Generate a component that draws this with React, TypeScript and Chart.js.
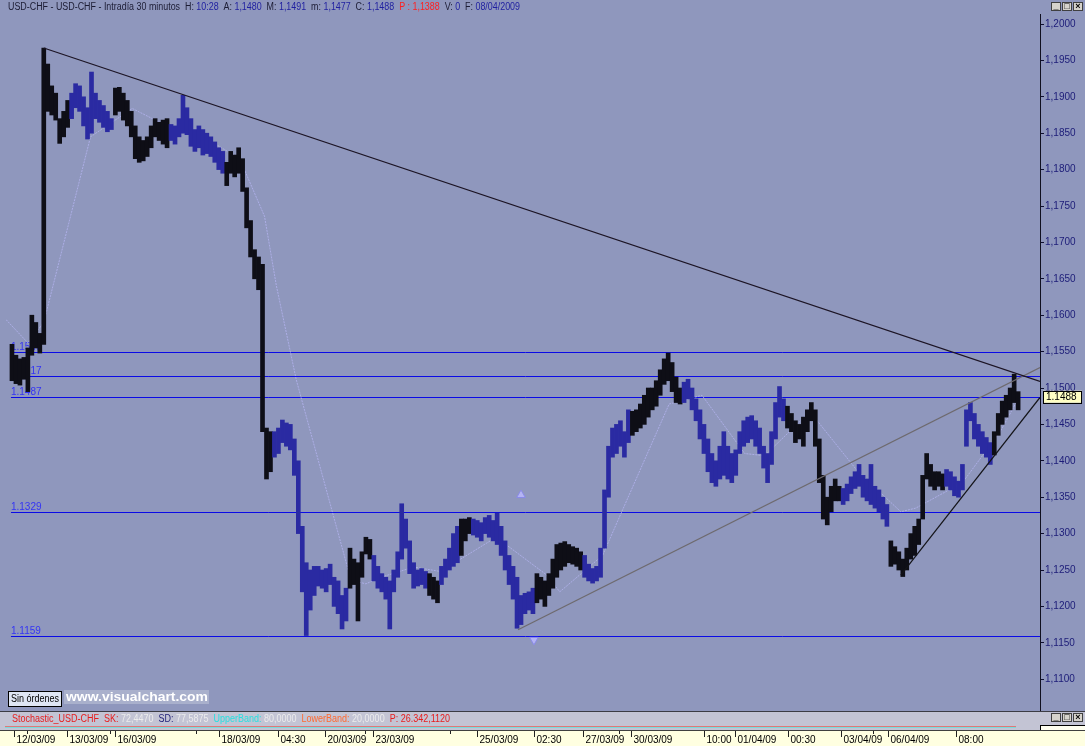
import React, { useEffect, useRef } from "react";
import { Chart, registerables } from "chart.js";
Chart.register(...registerables);

const FONT = '"Liberation Sans", Arial, sans-serif';

// 30-minute bars, sampled (bar number 1 .. 254)
const FIRST_BAR = 1;
const barLows = [
  1.1510, 1.1506, 1.1504, 1.1512, 1.1495, 1.1545, 1.1555, 1.1548, 1.1560, 1.1880,
  1.1875, 1.1868, 1.1836, 1.1845, 1.1858, 1.1870, 1.1885, 1.1880, 1.1860, 1.1842,
  1.1850, 1.1870, 1.1865, 1.1858, 1.1852, 1.1855, 1.1875, 1.1880, 1.1868, 1.1860,
  1.1845, 1.1815, 1.1810, 1.1812, 1.1818, 1.1830, 1.1845, 1.1840, 1.1835, 1.1830,
  1.1840, 1.1835, 1.1845, 1.1850, 1.1848, 1.1832, 1.1825, 1.1830, 1.1820, 1.1822,
  1.1818, 1.1810, 1.1800, 1.1795, 1.1778, 1.1795, 1.1790, 1.1795, 1.1770, 1.1720,
  1.1680, 1.1650, 1.1635, 1.1440, 1.1375, 1.1385, 1.1405, 1.1410, 1.1425, 1.1420,
  1.1415, 1.1380, 1.1300, 1.1220, 1.1160, 1.1195, 1.1215, 1.1228, 1.1225, 1.1220,
  1.1230, 1.1200, 1.1190, 1.1169, 1.1180, 1.1225, 1.1230, 1.1180, 1.1240, 1.1272,
  1.1265, 1.1235, 1.1225, 1.1220, 1.1210, 1.1169, 1.1220, 1.1240, 1.1265, 1.1280,
  1.1245, 1.1225, 1.1228, 1.1230, 1.1225, 1.1215, 1.1210, 1.1205, 1.1230, 1.1240,
  1.1250, 1.1255, 1.1260, 1.1270, 1.1290, 1.1300, 1.1298, 1.1295, 1.1290, 1.1300,
  1.1295, 1.1290, 1.1285, 1.1270, 1.1250, 1.1230, 1.1210, 1.1170, 1.1175, 1.1190,
  1.1195, 1.1190, 1.1205, 1.1210, 1.1200, 1.1215, 1.1225, 1.1240, 1.1250, 1.1255,
  1.1260, 1.1258, 1.1255, 1.1250, 1.1240, 1.1235, 1.1232, 1.1235, 1.1240, 1.1280,
  1.1350, 1.1405, 1.1410, 1.1420, 1.1405, 1.1425, 1.1435, 1.1440, 1.1445, 1.1450,
  1.1460, 1.1470, 1.1475, 1.1490, 1.1505, 1.1510, 1.1495, 1.1480, 1.1478, 1.1480,
  1.1485, 1.1470, 1.1455, 1.1430, 1.1410, 1.1385, 1.1370, 1.1365, 1.1375, 1.1380,
  1.1375, 1.1370, 1.1380, 1.1410, 1.1420, 1.1425, 1.1430, 1.1420, 1.1410, 1.1390,
  1.1370, 1.1395, 1.1430, 1.1460, 1.1455, 1.1445, 1.1440, 1.1425, 1.1430, 1.1420,
  1.1440, 1.1455, 1.1420, 1.1370, 1.1320, 1.1312, 1.1330, 1.1345, 1.1345, 1.1340,
  1.1345, 1.1355, 1.1362, 1.1365, 1.1350, 1.1345, 1.1340, 1.1335, 1.1330, 1.1320,
  1.1310, 1.1255, 1.1258, 1.1250, 1.1241, 1.1250, 1.1265, 1.1270, 1.1285, 1.1320,
  1.1375, 1.1365, 1.1360, 1.1365, 1.1360, 1.1365, 1.1360, 1.1352, 1.1350, 1.1360,
  1.1420, 1.1455, 1.1430, 1.1420, 1.1410, 1.1405, 1.1395, 1.1408, 1.1435, 1.1450,
  1.1460, 1.1470, 1.1480, 1.1470,
];
const barHighs = [
  1.1560, 1.1545, 1.1540, 1.1542, 1.1555, 1.1600, 1.1590, 1.1575, 1.1967, 1.1945,
  1.1915, 1.1905, 1.1870, 1.1880, 1.1895, 1.1905, 1.1918, 1.1915, 1.1900, 1.1885,
  1.1934, 1.1905, 1.1895, 1.1888, 1.1880, 1.1870, 1.1912, 1.1913, 1.1905, 1.1895,
  1.1880, 1.1860, 1.1845, 1.1840, 1.1845, 1.1860, 1.1870, 1.1865, 1.1868, 1.1870,
  1.1862, 1.1860, 1.1870, 1.1902, 1.1885, 1.1870, 1.1855, 1.1860, 1.1855, 1.1850,
  1.1845, 1.1838, 1.1830, 1.1825, 1.1810, 1.1825, 1.1820, 1.1830, 1.1815, 1.1775,
  1.1730, 1.1690, 1.1680, 1.1670, 1.1445, 1.1440, 1.1440, 1.1445, 1.1456, 1.1452,
  1.1450, 1.1430, 1.1400, 1.1310, 1.1260, 1.1250, 1.1255, 1.1255, 1.1250, 1.1252,
  1.1258, 1.1240, 1.1235, 1.1215, 1.1225, 1.1280, 1.1265, 1.1260, 1.1275, 1.1295,
  1.1292, 1.1270, 1.1255, 1.1245, 1.1240, 1.1235, 1.1250, 1.1275, 1.1341, 1.1320,
  1.1290, 1.1260, 1.1250, 1.1252, 1.1248, 1.1245, 1.1240, 1.1235, 1.1255, 1.1265,
  1.1280, 1.1300, 1.1310, 1.1320, 1.1320, 1.1322, 1.1320, 1.1318, 1.1315, 1.1322,
  1.1325, 1.1318, 1.1328, 1.1310, 1.1290, 1.1270, 1.1255, 1.1240, 1.1215, 1.1218,
  1.1220, 1.1225, 1.1245, 1.1240, 1.1235, 1.1245, 1.1265, 1.1285, 1.1287, 1.1289,
  1.1285, 1.1282, 1.1280, 1.1275, 1.1270, 1.1258, 1.1252, 1.1255, 1.1280, 1.1360,
  1.1420, 1.1445, 1.1450, 1.1455, 1.1440, 1.1470, 1.1468, 1.1470, 1.1478, 1.1490,
  1.1500, 1.1500, 1.1510, 1.1525, 1.1540, 1.1548, 1.1535, 1.1515, 1.1500, 1.1508,
  1.1512, 1.1500, 1.1485, 1.1470, 1.1450, 1.1430, 1.1410, 1.1400, 1.1420, 1.1440,
  1.1420, 1.1410, 1.1415, 1.1440, 1.1455, 1.1460, 1.1462, 1.1455, 1.1445, 1.1420,
  1.1410, 1.1440, 1.1480, 1.1502, 1.1485, 1.1475, 1.1465, 1.1455, 1.1450, 1.1460,
  1.1470, 1.1480, 1.1470, 1.1430, 1.1380, 1.1350, 1.1365, 1.1375, 1.1365, 1.1362,
  1.1368, 1.1378, 1.1385, 1.1395, 1.1380, 1.1375, 1.1395, 1.1365, 1.1360, 1.1350,
  1.1340, 1.1290, 1.1282, 1.1275, 1.1265, 1.1280, 1.1300, 1.1310, 1.1320, 1.1380,
  1.1410, 1.1395, 1.1385, 1.1385, 1.1382, 1.1388, 1.1385, 1.1378, 1.1372, 1.1395,
  1.1470, 1.1480, 1.1465, 1.1450, 1.1440, 1.1432, 1.1425, 1.1440, 1.1465, 1.1482,
  1.1490, 1.1500, 1.1519, 1.1495,
];
// bar tone runs: [first bar, last bar, tone]
const toneRuns: [number, number, string][] = [
  [1, 15, "k"], [16, 26, "b"], [27, 40, "k"], [41, 54, "b"], [55, 66, "k"],
  [67, 85, "b"], [86, 91, "k"], [92, 105, "b"], [106, 108, "k"], [109, 113, "b"],
  [114, 116, "k"], [117, 132, "b"], [133, 144, "k"], [145, 156, "b"], [157, 169, "k"],
  [170, 195, "b"], [196, 209, "k"], [210, 221, "b"], [222, 235, "k"], [236, 247, "b"],
  [248, 254, "k"],
];

// smoothed guide line
const guideX = [-0.5, 5, 9, 20.75, 31.25, 37.75, 52.75, 58.25, 64.5, 67.5, 72.5, 86.25, 90, 93.75, 102, 108.75, 122.75, 135.25, 138.75, 149.5, 166.25, 174.5, 185.25, 190.25, 199.5, 202, 213.75, 224.5, 228.25, 240, 249.5, 253.5];
const guideY = [1.1594, 1.1562, 1.1590, 1.1845, 1.1884, 1.1866, 1.1833, 1.1815, 1.1736, 1.1640, 1.1511, 1.1236, 1.1231, 1.1240, 1.1254, 1.1248, 1.1295, 1.1244, 1.1220, 1.1270, 1.1478, 1.1490, 1.1410, 1.1407, 1.1456, 1.1465, 1.1385, 1.1330, 1.1335, 1.1370, 1.1440, 1.1480];

// trend lines (bar number, price)
const trendDownX = [9, 259.5];
const trendDownY = [1.1967, 1.1509];
const trendUpAX = [128.25, 259.5];
const trendUpAY = [1.1168, 1.1528];
const trendUpBX = [224.5, 259.5];
const trendUpBY = [1.1243, 1.1487];

// horizontal levels
const levelValues = [1.1549, 1.1517, 1.1487, 1.1329, 1.1159];
const levelLabels = ["1.1549", "1.1517", "1.1487", "1.1329", "1.1159"];

// arrow markers
const markerX = [129, 132.25];
const markerY = [1.1353, 1.1154];
const markerRot = [0, 180];

const yTickValues = [1.11, 1.115, 1.12, 1.125, 1.13, 1.135, 1.14, 1.145, 1.15, 1.155, 1.16, 1.165, 1.17, 1.175, 1.18, 1.185, 1.19, 1.195, 1.2];
const yMin = 1.105632;
const yMax = 1.201374;

const xTickPositions = [1.4, 4.7, 14.75, 25.75, 26.9, 47.25, 52.95, 68, 79.7, 89.75, 91.75, 111.15, 118, 132.25, 144.7, 153.6, 156.65, 174.9, 182.75, 196.2, 209.4, 217.5, 221.4, 238.5];
const xTickLabels = ["12/03/09", "", "13/03/09", "", "16/03/09", "", "18/03/09", "04:30", "20/03/09", "", "23/03/09", "", "25/03/09", "02:30", "27/03/09", "", "30/03/09", "10:00", "01/04/09", "00:30", "03/04/09", "", "06/04/09", "08:00"];

const lastClose = 1.1488;

const headerRuns: [string, string][] = [
  ["USD-CHF - USD-CHF - Intradía 30 minutos  ", "#1c1c34"],
  ["H: ", "#1c1c34"], ["10:28", "#1f1fa0"],
  ["  A: ", "#1c1c34"], ["1,1480", "#1f1fa0"],
  ["  M: ", "#1c1c34"], ["1,1491", "#1f1fa0"],
  ["  m: ", "#1c1c34"], ["1,1477", "#1f1fa0"],
  ["  C: ", "#1c1c34"], ["1,1488", "#1f1fa0"],
  ["  P : ", "#ff2020"], ["1,1388", "#ff2020"],
  ["  V: ", "#1c1c34"], ["0", "#1f1fa0"],
  ["  F: ", "#1c1c34"], ["08/04/2009", "#1f1fa0"],
];
const stochRuns: [string, string][] = [
  ["Stochastic_USD-CHF  ", "#e81c1c"],
  ["SK: ", "#e81c1c"], ["72,4470", "#ececec"],
  ["  SD: ", "#24247a"], ["77,5875", "#ececec"],
  ["  UpperBand: ", "#28e0e0"], ["80,0000", "#ececec"],
  ["  LowerBand: ", "#ff6a30"], ["20,0000", "#ececec"],
  ["  P: 26.342,1120", "#e81c1c"],
];

const BG = "#8f97bd";

function drawRuns(ctx: CanvasRenderingContext2D, runs: [string, string][], x: number, yMid: number, targetW: number, size: number, weight = "") {
  ctx.save();
  ctx.font = `${weight} ${size}px ${FONT}`;
  const total = runs.reduce((s, r) => s + ctx.measureText(r[0]).width, 0);
  const k = targetW / total;
  ctx.translate(x, yMid);
  ctx.scale(k, 1);
  ctx.textBaseline = "middle";
  ctx.textAlign = "left";
  let cx = 0;
  for (const [t, c] of runs) {
    ctx.fillStyle = c;
    ctx.fillText(t, cx, 0);
    cx += ctx.measureText(t).width;
  }
  ctx.restore();
}

function drawButtons(ctx: CanvasRenderingContext2D, x: number, y: number) {
  const glyphs = ["_", "□", "×"];
  for (let i = 0; i < 3; i++) {
    const bx = x + i * 11;
    ctx.fillStyle = "#d6d3cc";
    ctx.fillRect(bx, y, 10, 9);
    ctx.strokeStyle = "#404040";
    ctx.lineWidth = 1;
    ctx.strokeRect(bx + 0.5, y + 0.5, 9, 8);
    ctx.fillStyle = "#000";
    ctx.font = `bold 9px ${FONT}`;
    ctx.textAlign = "center";
    ctx.textBaseline = "middle";
    ctx.fillText(glyphs[i], bx + 5, y + 4.5);
  }
}

const decorPlugin = {
  id: "decor",
  beforeDraw(chart: any) {
    const { ctx, width, height } = chart;
    ctx.save();
    ctx.fillStyle = BG;
    ctx.fillRect(0, 0, width, height);
    ctx.restore();
  },
  beforeDatasetsDraw(chart: any) {
    const { ctx, chartArea, scales } = chart;
    const ys = scales.y;
    const xs = scales.x;
    const left = xs.getPixelForValue(0.75);
    ctx.save();
    ctx.font = `10px ${FONT}`;
    ctx.textAlign = "left";
    ctx.textBaseline = "alphabetic";
    levelValues.forEach((v, i) => {
      const py = Math.round(ys.getPixelForValue(v)) + 0.5;
      ctx.strokeStyle = "#0a0ae6";
      ctx.lineWidth = 1;
      ctx.beginPath();
      ctx.moveTo(left, py);
      ctx.lineTo(chartArea.right, py);
      ctx.stroke();
      ctx.fillStyle = "#3434f4";
      ctx.fillText(levelLabels[i], left, py - 3);
    });
    ctx.restore();
  },
  afterDraw(chart: any) {
    const { ctx, width, scales } = chart;
    const xs = scales.x;
    const ys = scales.y;
    ctx.save();
    // header
    drawRuns(ctx, headerRuns, 8, 7, 512, 10);
    drawButtons(ctx, 1051, 2);

    // watermark and button
    ctx.fillStyle = "#dfe6f4";
    ctx.fillRect(8, 691, 53, 15);
    ctx.strokeStyle = "#000";
    ctx.lineWidth = 1;
    ctx.strokeRect(8.5, 691.5, 53, 15);
    drawRuns(ctx, [["Sin órdenes", "#000"]], 11, 699, 48, 10);
    ctx.fillStyle = "#a9b0cc";
    ctx.fillRect(64, 690, 145, 14);
    drawRuns(ctx, [["www.visualchart.com", "#ffffff"]], 66, 697, 142, 13, "bold");

    // stochastic panel
    ctx.fillStyle = "#3c3c44";
    ctx.fillRect(0, 711, width, 1);
    ctx.fillStyle = "#c3c4d4";
    ctx.fillRect(0, 712, width, 18);
    drawRuns(ctx, stochRuns, 12, 719, 438, 10);
    ctx.fillStyle = "#e07878";
    ctx.fillRect(5, 726, 1011, 1);
    ctx.fillStyle = "#78dcdc";
    ctx.fillRect(5, 727, 1011, 1);
    drawButtons(ctx, 1051, 713);
    ctx.fillStyle = "#fffff0";
    ctx.fillRect(1040, 725, 45, 7);
    ctx.fillStyle = "#000";
    ctx.fillRect(1040, 725, 45, 1);
    ctx.fillRect(1040, 725, 1, 7);

    // x axis row
    ctx.fillStyle = "#404040";
    ctx.fillRect(0, 730, width, 1);
    ctx.fillStyle = "#ffffe1";
    ctx.fillRect(0, 731, width, 15);
    ctx.font = `10px ${FONT}`;
    ctx.textBaseline = "middle";
    ctx.textAlign = "left";
    xTickPositions.forEach((p, i) => {
      const px = Math.round(xs.getPixelForValue(p)) + 0.5;
      const major = xTickLabels[i] !== "";
      ctx.strokeStyle = "#202020";
      ctx.beginPath();
      ctx.moveTo(px, 731);
      ctx.lineTo(px, major ? 737 : 734);
      ctx.stroke();
      if (major) {
        ctx.fillStyle = "#000";
        ctx.fillText(xTickLabels[i], px + 2, 740);
      }
    });

    // last price box
    const py = ys.getPixelForValue(lastClose);
    ctx.fillStyle = "#ffffc4";
    ctx.fillRect(1043, py - 6, 39, 12);
    ctx.strokeStyle = "#000";
    ctx.strokeRect(1043.5, Math.round(py - 6) + 0.5, 38, 12);
    ctx.fillStyle = "#000";
    ctx.font = `10px ${FONT}`;
    ctx.textAlign = "left";
    ctx.textBaseline = "middle";
    ctx.fillText(lastClose.toFixed(4), 1046, py + 0.5);
    ctx.restore();
  },
};

export default function App() {
  const ref = useRef<HTMLCanvasElement>(null);
  useEffect(() => {
    const canvas = ref.current;
    if (!canvas) return;
    const bars = barHighs.map((h, k) => ({ x: k + FIRST_BAR, y: [barLows[k], h] }));
    const toneOf = (n: number) => {
      const run = toneRuns.find((r) => n >= r[0] && n <= r[1]);
      return run && run[2] === "b" ? "#2a2aa2" : "#0e0e16";
    };
    const barColors = bars.map((b) => toneOf(b.x));
    const pts = (xs: number[], ys: number[]) => xs.map((x, i) => ({ x, y: ys[i] }));
    const chart = new Chart(canvas, {
      type: "bar",
      data: {
        datasets: [
          { type: "line", data: pts(trendDownX, trendDownY), borderColor: "#1c1424", borderWidth: 1.2, pointRadius: 0, order: 0 } as any,
          { type: "line", data: pts(trendUpAX, trendUpAY), borderColor: "#6e6a6e", borderWidth: 1.2, pointRadius: 0, order: 0 } as any,
          { type: "line", data: pts(trendUpBX, trendUpBY), borderColor: "#141418", borderWidth: 1.2, pointRadius: 0, order: 0 } as any,
          {
            type: "scatter", data: pts(markerX, markerY), pointStyle: "triangle", rotation: markerRot,
            pointRadius: 5, backgroundColor: "#b4b4f4", borderColor: "#8a8ae8", borderWidth: 1, order: 0,
          } as any,
          { type: "bar", data: bars, backgroundColor: barColors, barThickness: 4, grouped: false, order: 1 } as any,
          {
            type: "line", data: pts(guideX, guideY), borderColor: "rgba(178,178,236,0.85)", borderWidth: 1,
            borderDash: [2, 1], pointRadius: 0, order: 2,
          } as any,
        ],
      },
      options: {
        animation: false,
        responsive: true,
        maintainAspectRatio: false,
        layout: { padding: { top: 14, bottom: 35, left: 0, right: 0 } },
        plugins: { legend: { display: false }, tooltip: { enabled: false } },
        scales: {
          x: { type: "linear", min: -0.5, max: 259.5, offset: false, display: false, grid: { offset: false } },
          y: {
            type: "linear",
            position: "right",
            min: yMin,
            max: yMax,
            afterBuildTicks: (s: any) => { s.ticks = yTickValues.map((v) => ({ value: v })); },
            afterFit: (s: any) => { s.width = 45; },
            grid: { drawOnChartArea: false, drawTicks: true, tickLength: 4, tickColor: "#101030" },
            border: { display: true, color: "#101020", width: 1 },
            ticks: {
              padding: 1,
              color: "#1c1c78",
              font: { family: FONT, size: 10 },
              callback: (v: any) => Number(v).toFixed(4).replace(".", ","),
            },
          },
        },
      },
      plugins: [decorPlugin],
    });
    return () => chart.destroy();
  }, []);
  return (
    <div style={{ position: "fixed", left: 0, top: 0, width: 1085, height: 746 }}>
      <canvas ref={ref} />
    </div>
  );
}
